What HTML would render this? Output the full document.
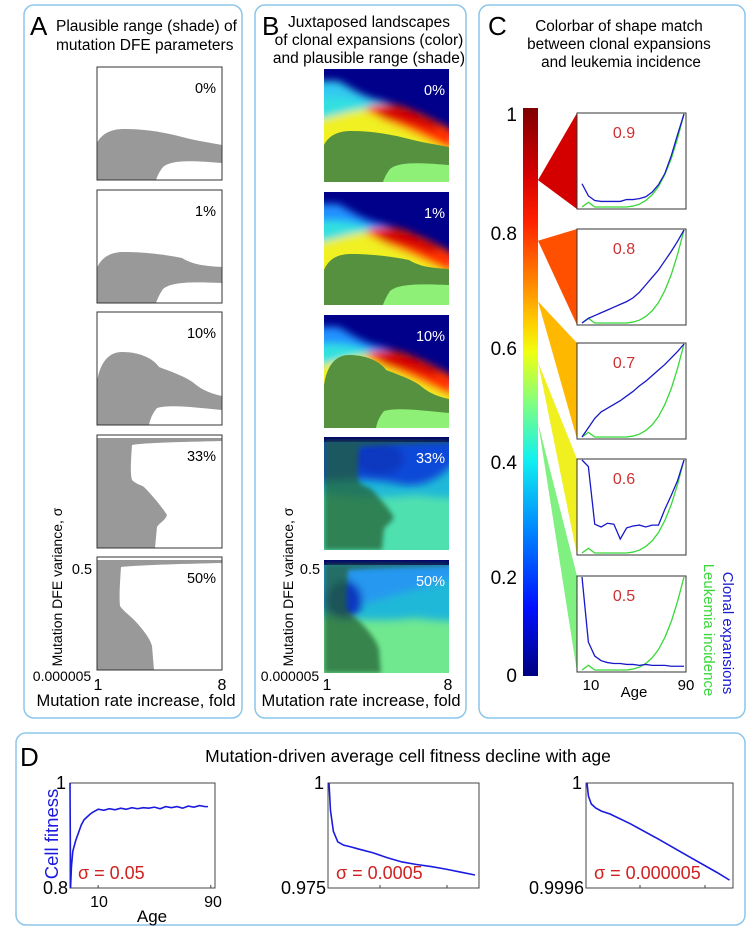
<!DOCTYPE html>
<html><head><meta charset="utf-8"><style>
html,body{margin:0;padding:0;background:#fff;}
svg{display:block;font-family:"Liberation Sans",sans-serif;}
</style></head><body>
<svg id="fig" width="750" height="929" viewBox="0 0 750 929" xmlns="http://www.w3.org/2000/svg">
<defs>
<filter id="bl" x="-20%" y="-20%" width="140%" height="140%"><feGaussianBlur stdDeviation="4"/></filter>
<filter id="bl2" x="-20%" y="-20%" width="140%" height="140%"><feGaussianBlur stdDeviation="2.5"/></filter>
<linearGradient id="jet" x1="0" y1="0" x2="0" y2="1">
<stop offset="0" stop-color="#7f0000"/><stop offset="0.12" stop-color="#d80000"/><stop offset="0.2" stop-color="#ff2000"/>
<stop offset="0.3" stop-color="#ff8000"/><stop offset="0.38" stop-color="#ffd000"/><stop offset="0.43" stop-color="#f0ff10"/>
<stop offset="0.52" stop-color="#80ff80"/><stop offset="0.62" stop-color="#10f0f0"/><stop offset="0.75" stop-color="#0080ff"/>
<stop offset="0.88" stop-color="#0010ff"/><stop offset="1" stop-color="#00007f"/></linearGradient>
<clipPath id="cp"><rect x="0" y="0" width="125" height="113"/></clipPath>
</defs>

<rect x="24" y="5" width="218" height="713" rx="10" fill="none" stroke="#8cc6ec" stroke-width="1.5"/>
<rect x="255" y="5" width="211" height="713" rx="10" fill="none" stroke="#8cc6ec" stroke-width="1.5"/>
<rect x="479" y="5" width="266" height="713" rx="10" fill="none" stroke="#8cc6ec" stroke-width="1.5"/>
<rect x="16" y="733" width="729" height="192" rx="10" fill="none" stroke="#8cc6ec" stroke-width="1.5"/>

<!-- Panel A -->
<text x="30" y="35" font-size="26">A</text>
<text x="56" y="31" font-size="15.5"><tspan x="56">Plausible range (shade) of</tspan><tspan x="56" dy="19">mutation DFE parameters</tspan></text>
<g id="plotsA"></g>
<text x="82" y="574" font-size="14.5" text-anchor="middle">0.5</text>
<text x="62" y="681" font-size="14" text-anchor="middle">0.000005</text>
<text x="98" y="690" font-size="16" text-anchor="middle">1</text>
<text x="222" y="690" font-size="16" text-anchor="middle">8</text>
<text x="136" y="706" font-size="16.5" text-anchor="middle">Mutation rate increase, fold</text>
<text transform="translate(62,587) rotate(-90)" font-size="14" text-anchor="middle">Mutation DFE variance, σ</text>

<!-- Panel B -->
<text x="262" y="35" font-size="26">B</text>
<text font-size="15.5" text-anchor="middle"><tspan x="369" y="27">Juxtaposed landscapes</tspan><tspan x="369" y="45">of clonal expansions (color)</tspan><tspan x="369" y="63">and plausible range (shade)</tspan></text>
<g id="plotsB"></g>
<text x="310" y="574" font-size="14.5" text-anchor="middle">0.5</text>
<text x="290" y="681" font-size="14" text-anchor="middle">0.000005</text>
<text x="327" y="690" font-size="16" text-anchor="middle">1</text>
<text x="448" y="690" font-size="16" text-anchor="middle">8</text>
<text x="361" y="706" font-size="16.5" text-anchor="middle">Mutation rate increase, fold</text>
<text transform="translate(293,587) rotate(-90)" font-size="14" text-anchor="middle">Mutation DFE variance, σ</text>

<!-- Panel C -->
<text x="488" y="35" font-size="26">C</text>
<text font-size="15.3" text-anchor="middle"><tspan x="619" y="31">Colorbar of shape match</tspan><tspan x="619" y="49">between clonal expansions</tspan><tspan x="621" y="67">and leukemia incidence</tspan></text>
<rect x="523" y="108" width="15" height="568" fill="url(#jet)"/>
<g id="cbTicks"></g>
<g id="plotsC"></g>
<text x="591" y="690" font-size="15" text-anchor="middle">10</text>
<text x="686" y="690" font-size="15" text-anchor="middle">90</text>
<text x="634" y="697" font-size="15" text-anchor="middle">Age</text>
<text transform="translate(723,633) rotate(90)" font-size="15" fill="#1a1ad0" text-anchor="middle">Clonal expansions</text>
<text transform="translate(704,630) rotate(90)" font-size="15" fill="#3ad83a" text-anchor="middle">Leukemia incidence</text>

<!-- Panel D -->
<text x="20" y="766" font-size="26">D</text>
<text x="408" y="762" font-size="17.5" text-anchor="middle">Mutation-driven average cell fitness decline with age</text>
<g id="plotsD"></g>
<text transform="translate(58,834) rotate(-90)" font-size="18.5" fill="#1a1ae0" text-anchor="middle">Cell fitness</text>
<text x="99" y="907" font-size="16" text-anchor="middle">10</text>
<text x="213" y="907" font-size="16" text-anchor="middle">90</text>
<text x="152" y="922" font-size="17" text-anchor="middle">Age</text>
</svg>
<script>
// ---------- data ----------
const pctLabels = ["0%","1%","10%","33%","50%"];
const cbTickValues = ["1","0.8","0.6","0.4","0.2","0"];
const matchScores = [0.9,0.8,0.7,0.6,0.5];
const wedgeTipValues = [0.9,0.79,0.68,0.57,0.46];
const wedgeColors = ["#d40000","#ff5000","#ffb800","#f0f020","#80f080"];
const leukemia = [0,0.05,0,0,0,0,0,0,0.01,0.03,0.07,0.13,0.22,0.35,0.52,0.74,1];
const clonal09 = [0.25,0.12,0.07,0.06,0.06,0.06,0.06,0.08,0.08,0.09,0.11,0.16,0.24,0.36,0.55,0.78,1];
const clonal08 = [0,0.05,0.08,0.11,0.14,0.17,0.2,0.23,0.27,0.33,0.41,0.49,0.57,0.67,0.77,0.88,1];
const clonal07 = [0,0.1,0.2,0.27,0.31,0.35,0.39,0.44,0.49,0.55,0.6,0.66,0.72,0.78,0.85,0.92,1];
const clonal06 = [1,0.93,0.31,0.28,0.32,0.31,0.15,0.27,0.29,0.3,0.28,0.3,0.3,0.47,0.62,0.78,1];
const clonal05 = [1,0.3,0.15,0.1,0.08,0.07,0.07,0.06,0.06,0.05,0.06,0.05,0.05,0.05,0.04,0.04,0.04];
const d1Ages = [-10,-9.6,-9,-8,-6,-4,-2,0,2,4,6,8,10,14,18,22,26,30,34,38,42,46,50,54,58,62,66,70,74,78,82,86,88];
const d1Vals = [1,0.8,0.84,0.87,0.89,0.905,0.92,0.93,0.935,0.94,0.944,0.947,0.95,0.948,0.951,0.949,0.952,0.95,0.953,0.951,0.953,0.952,0.954,0.951,0.955,0.953,0.955,0.952,0.956,0.954,0.957,0.955,0.955];
const d2Frac = [0,0.01,0.03,0.06,0.1,0.15,0.2,0.3,0.4,0.5,0.6,0.7,0.8,0.9,1];
const d2Vals = [1,0.9935,0.9885,0.986,0.9852,0.9848,0.9843,0.9834,0.9822,0.9812,0.9806,0.9801,0.9795,0.9788,0.9781];
const d3Frac = [0,0.01,0.03,0.06,0.1,0.16,0.3,0.5,0.7,0.9,0.99];
const d3Vals = [1,0.99995,0.99992,0.999905,0.999893,0.999882,0.999845,0.999785,0.999722,0.99966,0.99963];
</script>
<script>
const NS="http://www.w3.org/2000/svg";
function mk(tag,attrs,parent){const e=document.createElementNS(NS,tag);for(const k in attrs)e.setAttribute(k,attrs[k]);parent.appendChild(e);return e;}
const shapes=[
 "M0,76 C5,66 15,62 27,62 C50,62 70,66 85,70 C100,74 115,76 125,78 L125,113 L0,113 Z",
 "M0,78 C5,66 15,62 27,62 C45,62 65,64 85,68 C95,74 105,76 125,77 L125,113 L0,113 Z",
 "M0,70 C3,50 12,40 25,40 C40,40 55,45 62,55 C75,60 90,65 98,72 C105,78 115,82 125,84 L125,113 L0,113 Z",
 "M0,3 L125,3 L125,6 C80,7 45,8 35,10 C34,25 33,38 35,45 C40,50 45,50 47,52 C55,60 65,72 70,80 C68,86 62,88 60,92 L58,113 L0,113 Z",
 "M0,3 L125,3 L125,6 C80,7 45,8 24,10 C23,25 22,40 23,49 C28,56 35,60 40,66 C48,75 53,82 55,89 L57,113 L0,113 Z"];
const holes=[
 "M125,96 C100,94 75,92 66,100 C62,105 60,110 59,113 L125,113 Z",
 "M125,93 C100,92 75,91 66,99 C62,105 60,110 59,113 L125,113 Z",
 "M125,98 C100,96 75,92 60,96 C55,102 53,108 52,113 L125,113 Z",
 null,null];
const aY=[67,190,312,435,557], bY=[69,192,315,437,560];
const gA=document.getElementById('plotsA');
for(let i=0;i<5;i++){
 const g=mk('g',{transform:`translate(97,${aY[i]})`},gA);
 
 
 mk('path',{d:shapes[i],fill:'#999','clip-path':'url(#cp)'},g);
 if(holes[i]) mk('path',{d:holes[i],fill:'#fff'},g);
 mk('rect',{x:0,y:0,width:125,height:113,fill:'none',stroke:'#333','stroke-width':1},g);
 const t=mk('text',{x:119,y:26,'font-size':14.5,'text-anchor':'end'},g);t.textContent=pctLabels[i];
 
 
}
const gB=document.getElementById('plotsB');
for(let i=0;i<5;i++){
 const g=mk('g',{transform:`translate(324,${bY[i]})`},gB);
 
 
 const c=mk('g',{'clip-path':'url(#cp)'},g);
 if(i<3){
  mk('rect',{x:0,y:0,width:125,height:113,fill:'#00008a'},c);
  const f=mk('g',{filter:'url(#bl)'},c);
  mk('path',{d:"M-10,12 L14,12 C26,18 38,28 58,32 C85,42 105,55 135,72 L135,130 L-10,130 Z",fill:i==0?'#30c8f0':'#2090ff'},f);
  mk('path',{d:"M-10,30 C10,26 28,30 42,34 C70,40 95,52 135,72 L135,130 L-10,130 Z",fill:'#30e0e0'},f);
  mk('path',{d:"M-10,52 C15,46 30,40 45,40 C70,44 95,56 135,76 L135,130 L-10,130 Z",fill:'#f0f020'},f);
  mk('path',{d:"M40,40 C55,33 72,34 90,42 C105,48 118,56 130,62 L130,82 C110,74 90,62 62,52 Z",fill:'#ff3000'},f);
  mk('path',{d:"M52,42 C62,37 76,37 88,42 C98,46 108,52 115,56 L110,62 C95,56 75,52 58,48 Z",fill:'#d40000'},f);
  mk('path',{d:shapes[i],fill:'#55913f'},c);
  mk('path',{d:holes[i],fill:'#8ff078'},c);
 } else {
  mk('rect',{x:0,y:0,width:125,height:113,fill:'#20b8d8'},c);
  const f=mk('g',{filter:'url(#bl)'},c);
  mk('path',{d:"M-10,55 C30,60 60,62 90,58 C110,60 125,62 135,60 L135,130 L-10,130 Z",fill:i==3?'#50e0b0':'#70e890'},f);
  mk('path',{d:i==3?"M-10,-10 L135,-10 L135,20 C120,40 100,50 80,48 C60,44 40,40 -10,45 Z":"M-10,-10 L135,-10 L135,15 C110,25 90,30 70,35 C55,40 40,45 -10,50 Z",fill:i==3?'#0c48d8':'#2898f0'},f);
  mk('ellipse',{cx:i==3?55:20,cy:i==3?22:40,rx:i==3?25:18,ry:i==3?16:20,fill:'#0838c0'},f);
  mk('rect',{x:0,y:0,width:125,height:5,fill:'#000070'},c);
  mk('path',{d:shapes[i],fill:'#245e30',opacity:0.72,filter:'url(#bl2)'},c);
 }
 const t=mk('text',{x:121,y:26,'font-size':14.5,'text-anchor':'end',fill:'#fff'},g);t.textContent=pctLabels[i];
 
 
}
const cbY=[114,233,348,462,577,675];
const gT=document.getElementById('cbTicks');
cbTickValues.forEach((v,i)=>{const t=mk('text',{x:517,y:cbY[i]+7,'font-size':19,'text-anchor':'end'},gT);t.textContent=v;
 
 });
const cbTop=108,cbBot=676;
function cbScale(v){return cbBot-v*(cbBot-cbTop)*0.97;}
const cTops=[113,229,343,459,576],cH=96;
const clonalSeries=[clonal09,clonal08,clonal07,clonal06,clonal05];
const gC=document.getElementById('plotsC');
for(let i=0;i<5;i++){
 const ty=cbScale(wedgeTipValues[i]);
 const w=mk('polygon',{points:`538,${ty} 577,${cTops[i]} 577,${cTops[i]+cH}`,fill:wedgeColors[i]},gC);
 
 
}
for(let i=0;i<5;i++){
 const g=mk('g',{},gC);
 
 
 mk('rect',{x:577,y:cTops[i],width:109,height:cH,fill:'#fff',stroke:'#333','stroke-width':1},g);
 const xs=k=>582+k*(684-582)/(leukemia.length-1);
 const ys=v=>cTops[i]+cH-2-v*(cH-3);
 const gl=mk('polyline',{points:leukemia.map((v,k)=>xs(k)+','+ys(v)).join(' '),fill:'none',stroke:'#38d838','stroke-width':1.3},g);
 
 
 const bl=mk('polyline',{points:clonalSeries[i].map((v,k)=>xs(k)+','+ys(v)).join(' '),fill:'none',stroke:'#1818c8','stroke-width':1.3},g);
 
 
 const t=mk('text',{x:624,y:cTops[i]+25,'font-size':16,'text-anchor':'middle',fill:'#d03030'},g);t.textContent=matchScores[i].toFixed(1);
 
 
}
const gD=document.getElementById('plotsD');
const dTop=783,dBot=888;
function dPlot(x0,x1,xsF,ysF,xv,yv,ymin,ymax,name,sigma,ticks){
 const g=mk('g',{},gD);
 
 
 mk('rect',{x:x0,y:dTop,width:x1-x0,height:dBot-dTop,fill:'#fff',stroke:'#444','stroke-width':1},g);
 ticks.forEach(tx=>mk('line',{x1:tx,x2:tx,y1:dBot,y2:dBot-3,stroke:'#444'},g));
 const l=mk('polyline',{points:xv.map((v,k)=>xsF(v)+','+ysF(yv[k])).join(' '),fill:'none',stroke:'#1a1ae0','stroke-width':1.6},g);
 
 
 let t=mk('text',{x:x0-4,y:dTop+6,'font-size':18,'text-anchor':'end'},g);t.textContent=ymax;
 
 
 t=mk('text',{x:x0-2,y:dBot+6,'font-size':18,'text-anchor':'end'},g);t.textContent=ymin;
 
 
 t=mk('text',{x:x0+8,y:dBot-9,'font-size':18,fill:'#d02020'},g);t.textContent=sigma;
 
 
}
const d1x=a=>70+(a+10)*(215-70)/103, d1y=v=>dBot-(v-0.8)/0.2*(dBot-dTop);
dPlot(70,215,d1x,d1y,d1Ages,d1Vals,"0.8","1",'fitness-plot-sigma-0.05','σ = 0.05',[d1x(10),d1x(90)]);
const d2x=f=>329+f*(475-329), d2y=v=>dBot-(v-0.975)/0.025*(dBot-dTop);
dPlot(328,479,d2x,d2y,d2Frac,d2Vals,"0.975","1",'fitness-plot-sigma-0.0005','σ = 0.0005',[380,447]);
const d3x=f=>587+f*(731-587), d3y=v=>dBot-(v-0.9996)/0.0004*(dBot-dTop);
dPlot(586,733,d3x,d3y,d3Frac,d3Vals,"0.9996","1",'fitness-plot-sigma-0.000005','σ = 0.000005',[640,705]);
</script>
</body></html>
